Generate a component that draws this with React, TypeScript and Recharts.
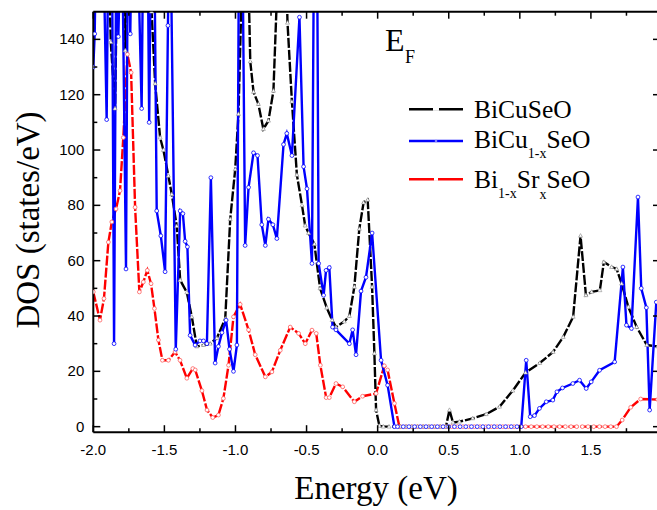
import { LineChart, Line, XAxis, YAxis } from "recharts";

const energyTicks = [-2, -1.75, -1.5, -1.25, -1, -0.75, -0.5, -0.25, 0, 0.25, 0.5, 0.75, 1, 1.25, 1.5, 1.75, 2];
const dosTicks = [0, 10, 20, 30, 40, 50, 60, 70, 80, 90, 100, 110, 120, 130, 140];

// [energy (eV), DOS (states/eV)]
const bicuseo: [number, number][] = [
  [-2.0, 180], [-1.94, 205], [-1.895, 175], [-1.877, 139], [-1.847, 115], [-1.825, 190],
  [-1.795, 190], [-1.775, 136], [-1.762, 190], [-1.7, 220], [-1.64, 200], [-1.59, 150],
  [-1.565, 124], [-1.53, 104.5], [-1.507, 100], [-1.472, 90.7], [-1.448, 84], [-1.413, 72.5],
  [-1.389, 53], [-1.342, 48.5], [-1.307, 39.7], [-1.272, 29], [-1.225, 29.5], [-1.178, 30],
  [-1.131, 32], [-1.072, 39], [-1.037, 75], [-1.002, 93], [-0.979, 113], [-0.955, 160],
  [-0.925, 200], [-0.896, 132], [-0.873, 121], [-0.839, 116.6], [-0.804, 107.6], [-0.768, 110.6],
  [-0.733, 121.4], [-0.709, 155], [-0.68, 200], [-0.65, 180], [-0.634, 146], [-0.603, 117.5],
  [-0.568, 91], [-0.532, 80], [-0.51, 72.7], [-0.486, 70], [-0.445, 66], [-0.405, 50],
  [-0.358, 43], [-0.32, 38.5], [-0.293, 36], [-0.235, 38], [-0.199, 40], [-0.164, 50.5],
  [-0.129, 71.5], [-0.099, 81], [-0.07, 82], [-0.039, 50.5], [-0.023, 26.5], [-0.011, 6],
  [0.012, 0.3], [0.04, 0], [0.08, 0], [0.12, 0], [0.16, 0], [0.2, 0], [0.24, 0], [0.28, 0],
  [0.32, 0], [0.36, 0], [0.4, 0], [0.44, 0], [0.48, 0], [0.505, 6], [0.53, 1.5], [0.575, 1.8],
  [0.669, 3], [0.763, 4.5], [0.857, 7.2], [0.95, 13], [1.04, 19.5], [1.14, 23], [1.234, 27],
  [1.305, 32.4], [1.375, 39.7], [1.427, 69], [1.465, 47.5], [1.505, 48.7], [1.563, 49.3],
  [1.591, 59.5], [1.646, 57.7], [1.681, 57], [1.716, 51.7], [1.763, 43.3], [1.822, 36],
  [1.893, 29.5], [1.97, 29],
];

const bicu1xseo: [number, number][] = [
  [-2.0, 130], [-1.99, 142], [-1.975, 200], [-1.955, 220], [-1.935, 190], [-1.906, 111],
  [-1.89, 200], [-1.87, 190], [-1.854, 30], [-1.836, 200], [-1.824, 141], [-1.8, 190],
  [-1.77, 57], [-1.755, 200], [-1.74, 142], [-1.72, 210], [-1.69, 180], [-1.66, 115],
  [-1.645, 200], [-1.62, 190], [-1.607, 110], [-1.59, 200], [-1.57, 170], [-1.554, 78],
  [-1.525, 69], [-1.495, 56], [-1.475, 145], [-1.462, 200], [-1.42, 28], [-1.389, 78],
  [-1.37, 77], [-1.354, 67], [-1.338, 65], [-1.319, 33], [-1.284, 29.5], [-1.25, 31],
  [-1.225, 31], [-1.201, 30], [-1.173, 90], [-1.143, 23], [-1.12, 29], [-1.095, 34],
  [-1.066, 38.5], [-1.042, 28], [-1.014, 20], [-0.99, 29.5], [-0.975, 180], [-0.955, 200],
  [-0.932, 65.5], [-0.908, 86.5], [-0.873, 99], [-0.845, 98], [-0.815, 73], [-0.79, 65.5],
  [-0.768, 75], [-0.737, 73], [-0.709, 68], [-0.662, 102], [-0.639, 106], [-0.603, 98],
  [-0.55, 148], [-0.521, 94], [-0.497, 86], [-0.462, 59], [-0.445, 200], [-0.43, 220],
  [-0.415, 59], [-0.38, 47.5], [-0.363, 56.5], [-0.34, 57.5], [-0.317, 36], [-0.293, 35],
  [-0.199, 30], [-0.176, 35], [-0.152, 26], [-0.117, 49], [-0.082, 54], [-0.039, 70],
  [0.024, 24], [0.07, 15], [0.118, 0], [0.14, 0], [0.18, 0], [0.22, 0], [0.26, 0], [0.3, 0],
  [0.34, 0], [0.38, 0], [0.42, 0], [0.46, 0], [0.5, 0], [0.54, 0], [0.58, 0], [0.62, 0],
  [0.66, 0], [0.7, 0], [0.74, 0], [0.78, 0], [0.82, 0], [0.86, 0], [0.9, 0], [0.94, 0],
  [0.98, 0], [1.01, 0], [1.045, 24], [1.073, 3.6], [1.103, 4], [1.138, 6.6], [1.186, 9],
  [1.232, 9.6], [1.261, 12.6], [1.3, 14], [1.373, 15.6], [1.42, 16.8], [1.467, 13.8],
  [1.502, 16.2], [1.561, 20.4], [1.667, 23.4], [1.725, 57.7], [1.75, 36.7], [1.785, 35.5],
  [1.831, 83], [1.854, 50], [1.89, 43], [1.913, 6], [1.96, 45],
];

const bi1xsrxseo: [number, number][] = [
  [-2.0, 48.7], [-1.953, 38.5], [-1.925, 46.3], [-1.894, 66.7], [-1.87, 74], [-1.84, 78.7],
  [-1.812, 85.3], [-1.789, 104.5], [-1.76, 134.6], [-1.734, 128], [-1.706, 79.3], [-1.676, 48.7],
  [-1.648, 52.3], [-1.62, 56.5], [-1.594, 51.7], [-1.57, 42.7], [-1.542, 31.3], [-1.514, 24],
  [-1.472, 24], [-1.425, 27], [-1.39, 24], [-1.342, 17.5], [-1.3, 21], [-1.283, 20.5],
  [-1.236, 13], [-1.2, 6], [-1.16, 3.3], [-1.12, 4.2], [-1.085, 10.2], [-1.049, 22.2],
  [-1.014, 39.7], [-0.967, 44.2], [-0.908, 35], [-0.861, 26], [-0.79, 18], [-0.744, 19.8],
  [-0.685, 27.6], [-0.615, 36], [-0.556, 33.7], [-0.509, 30], [-0.462, 34.9], [-0.432, 33.7],
  [-0.403, 22.2], [-0.362, 10.5], [-0.34, 10.5], [-0.293, 15.6], [-0.246, 14.4], [-0.164, 9],
  [-0.106, 11], [-0.011, 12], [0.047, 22], [0.07, 20.5], [0.118, 8.4], [0.153, 0],
  [0.16, 0], [0.2, 0], [0.24, 0], [0.28, 0], [0.32, 0], [0.36, 0], [0.4, 0], [0.44, 0],
  [0.48, 0], [0.52, 0], [0.56, 0], [0.6, 0], [0.64, 0], [0.68, 0], [0.72, 0], [0.76, 0],
  [0.8, 0], [0.84, 0], [0.88, 0], [0.92, 0], [0.96, 0], [1.0, 0], [1.04, 0], [1.08, 0],
  [1.12, 0], [1.16, 0], [1.2, 0], [1.24, 0], [1.28, 0], [1.32, 0], [1.36, 0], [1.4, 0],
  [1.44, 0], [1.48, 0], [1.52, 0], [1.56, 0], [1.6, 0], [1.64, 0], [1.68, 0], [1.72, 2.4],
  [1.78, 7], [1.85, 10], [1.97, 9.8],
];

const toRows = (pts: [number, number][]) => pts.map(([e, dos]) => ({ e, dos }));

const SANS = "'Liberation Sans', Arial, sans-serif";
const SERIF = "'Liberation Serif', 'Times New Roman', serif";

const isMajorE = (v: number) => Math.abs(v * 2 - Math.round(v * 2)) < 1e-6;
const isMajorD = (v: number) => v % 20 === 0;

const BottomTick = (props: any) => {
  const { x, y, payload } = props;
  const v = payload.value as number;
  const major = isMajorE(v);
  return (
    <g>
      <line x1={x} x2={x} y1={y} y2={y - (major ? 7 : 4)} stroke="#000" strokeWidth={1.5} />
      {major && v < 1.99 && (
        <text x={x} y={y + 23} textAnchor="middle" fontFamily={SANS} fontSize={15} fill="#000">
          {v.toFixed(1)}
        </text>
      )}
    </g>
  );
};

const TopTick = (props: any) => {
  const { x, y, payload } = props;
  const major = isMajorE(payload.value);
  return <line x1={x} x2={x} y1={y} y2={y + (major ? 7 : 4)} stroke="#000" strokeWidth={1.5} />;
};

const LeftTick = (props: any) => {
  const { x, y, payload } = props;
  const v = payload.value as number;
  const major = isMajorD(v);
  return (
    <g>
      <line x1={x} x2={x + (major ? 7 : 4)} y1={y} y2={y} stroke="#000" strokeWidth={1.5} />
      {major && (
        <text x={x - 9} y={y + 5} textAnchor="end" fontFamily={SANS} fontSize={15} fill="#000">
          {v}
        </text>
      )}
    </g>
  );
};

const RightTick = (props: any) => {
  const { x, y, payload } = props;
  const major = isMajorD(payload.value);
  return <line x1={x} x2={x - (major ? 9 : 5)} y1={y} y2={y} stroke="#000" strokeWidth={1.5} />;
};

const TriangleDot = (props: any) => {
  const { cx, cy, index } = props;
  if (cx == null || cy == null) return <g key={index} />;
  return (
    <path
      key={index}
      d={`M${cx},${cy - 2.2}L${cx + 2},${cy + 1.4}L${cx - 2},${cy + 1.4}Z`}
      fill="#fff"
      stroke="#888"
      strokeWidth={0.6}
    />
  );
};

const RingDot = (color: string) => (props: any) => {
  const { cx, cy, index } = props;
  if (cx == null || cy == null) return <g key={index} />;
  return <circle key={index} cx={cx} cy={cy} r={1.9} fill="#fff" stroke={color} strokeWidth={0.8} />;
};

const blueDot = RingDot("#0000ff");
const redDot = RingDot("#ff6060");

export default function App() {
  return (
    <div style={{ position: "absolute", left: 0, top: 0, width: 657, height: 510, overflow: "hidden", background: "#fff" }}>
      <LineChart width={672} height={510} margin={{ top: 10.7, right: 0, bottom: 17.8, left: 0 }}>
        <XAxis
          xAxisId="bottom"
          dataKey="e"
          type="number"
          domain={[-2, 2]}
          ticks={energyTicks}
          allowDataOverflow
          height={60}
          tickSize={0}
          tickMargin={0}
          tickLine={false}
          axisLine={{ stroke: "#000", strokeWidth: 2 }}
          tick={<BottomTick />}
          interval={0}
        />
        <XAxis
          xAxisId="top"
          orientation="top"
          dataKey="e"
          type="number"
          domain={[-2, 2]}
          ticks={energyTicks}
          allowDataOverflow
          height={1}
          tickSize={0}
          tickMargin={0}
          tickLine={false}
          axisLine={{ stroke: "#000", strokeWidth: 2 }}
          tick={<TopTick />}
          interval={0}
        />
        <YAxis
          yAxisId="left"
          type="number"
          domain={[-2, 150]}
          ticks={dosTicks}
          allowDataOverflow
          width={93.3}
          tickSize={0}
          tickMargin={0}
          tickLine={false}
          axisLine={{ stroke: "#000", strokeWidth: 2 }}
          tick={<LeftTick />}
          interval={0}
        />
        <YAxis
          yAxisId="right"
          orientation="right"
          type="number"
          domain={[-2, 150]}
          ticks={dosTicks}
          allowDataOverflow
          width={10}
          tickSize={0}
          tickMargin={0}
          tickLine={false}
          axisLine={{ stroke: "#000", strokeWidth: 2 }}
          tick={<RightTick />}
          interval={0}
        />
        <Line
          xAxisId="bottom"
          yAxisId="left"
          data={toRows(bi1xsrxseo)}
          dataKey="dos"
          type="linear"
          stroke="#ff0000"
          strokeWidth={2.4}
          strokeDasharray="10 2"
          dot={redDot}
          isAnimationActive={false}
        />
        <Line
          xAxisId="bottom"
          yAxisId="left"
          data={toRows(bicuseo)}
          dataKey="dos"
          type="linear"
          stroke="#000"
          strokeWidth={2.4}
          strokeDasharray="10 2"
          dot={TriangleDot}
          isAnimationActive={false}
        />
        <Line
          xAxisId="bottom"
          yAxisId="left"
          data={toRows(bicu1xseo)}
          dataKey="dos"
          type="linear"
          stroke="#0000ff"
          strokeWidth={2.4}
          dot={blueDot}
          isAnimationActive={false}
        />
      </LineChart>

      <svg width={657} height={510} style={{ position: "absolute", left: 0, top: 0, pointerEvents: "none" }}>
        <text x={385} y={50.7} fontFamily={SERIF} fontSize={32} fill="#000">E</text>
        <text x={405} y={62.7} fontFamily={SERIF} fontSize={18} fill="#000">F</text>

        <line x1={409} x2={463} y1={109.3} y2={109.3} stroke="#000" strokeWidth={2.4} />
        <line x1={433} x2={439} y1={109.3} y2={109.3} stroke="#fff" strokeWidth={3} />
        <line x1={409} x2={463} y1={141} y2={141} stroke="#0000ff" strokeWidth={2.4} />
        <circle cx={436} cy={141} r={1.3} fill="#8080ff" />
        <line x1={409} x2={463} y1={179.3} y2={179.3} stroke="#ff0000" strokeWidth={2.4} />
        <line x1={434} x2={438} y1={179.3} y2={179.3} stroke="#fff" strokeWidth={3} />

        <text x={474} y={118} fontFamily={SERIF} fontSize={25.5} fill="#000">BiCuSeO</text>
        <text x={474} y={148.3} fontFamily={SERIF} fontSize={25.5} fill="#000">
          BiCu<tspan fontSize={14} dy={10}>1-x</tspan><tspan dy={-10}>SeO</tspan>
        </text>
        <text x={474} y={188.3} fontFamily={SERIF} fontSize={25.5} fill="#000">
          Bi<tspan fontSize={14} dy={10}>1-x</tspan><tspan dy={-10}>Sr</tspan>
          <tspan fontSize={14} dy={11}>x</tspan><tspan dy={-11}>SeO</tspan>
        </text>

        <text x={376} y={498.5} textAnchor="middle" fontFamily={SERIF} fontSize={33} fill="#000">Energy (eV)</text>
        <text
          x={38.5}
          y={220}
          textAnchor="middle"
          fontFamily={SERIF}
          fontSize={33}
          fill="#000"
          transform="rotate(-90 38.5 220)"
        >
          DOS (states/eV)
        </text>
      </svg>
    </div>
  );
}
